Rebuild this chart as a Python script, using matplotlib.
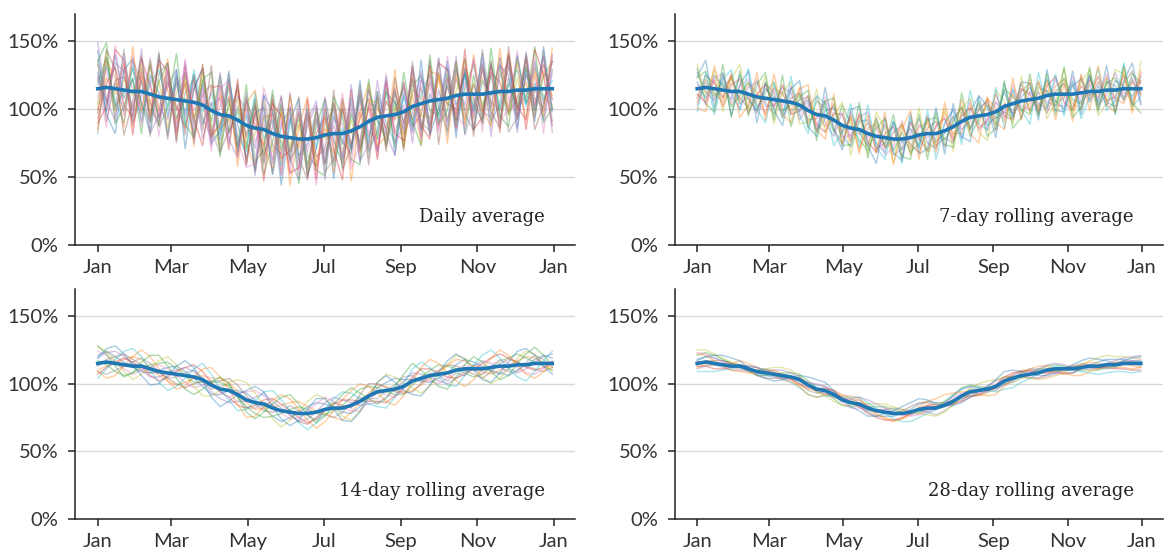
import numpy as np
import matplotlib
matplotlib.use("Agg")
import matplotlib.pyplot as plt
import matplotlib.dates as mdates
from matplotlib.ticker import FuncFormatter

# weekly sample dates over one year
dates = np.arange(np.datetime64("2021-01-01"), np.datetime64("2022-01-01"), np.timedelta64(7, "D"))

# average seasonal profile (% of annual mean), one value per week
mean_curve = [115, 116, 115, 114, 113, 113, 111, 109, 108, 107,
              106, 105, 103, 99, 96, 95, 92, 88, 86, 85,
              82, 80, 79, 78, 78, 79, 81, 82, 82, 84,
              87, 91, 94, 95, 96, 98, 102, 104, 106, 107,
              108, 110, 111, 111, 111, 112, 113, 113, 114, 114,
              115, 115, 115]

# offsets of individual years from the average
daily_dev = [
    [12, -18, 25, -6, 9, -22, 14, 3, -27, 18, -9, 21, -14, 6, -19, 27, -3, -24, 11, 16,
     -30, 8, 22, -12, -4, 19, -21, 13, -8, 24, -16, 2, -25, 17, 9, -13, 28, -20, 5, -11,
     23, -7, 15, -26, 10, -2, 20, -17, 26, -10, 4, -23, 14],
    [-15, 7, -4, 20, -26, 11, -8, 24, 6, -17, 19, -11, 3, -21, 15, -5, 22, -13, -29, 9,
     14, -19, 31, -7, 17, -24, 5, -15, 26, -2, 11, -20, 7, -9, 21, -27, 12, 4, -18, 16,
     -6, 25, -22, 8, -13, 19, -3, 28, -15, 6, -21, 13, -5],
    [5, 22, -13, -2, 17, -9, -20, 11, 26, -14, 2, -23, 18, -8, 29, -12, 7, -16, 21, -33,
     -6, 24, -11, 16, -19, 8, 27, -5, -22, 12, -14, 23, -3, -18, 10, -25, 15, 21, -7, -12,
     18, -19, 4, 22, -9, 13, -24, 6, -11, 17, -16, 9, 20],
    [-22, 3, 16, -11, -19, 24, 6, -15, 12, -5, -20, 10, 27, -18, -7, 14, -26, 19, 2, -12,
     25, -16, -9, 20, -28, 3, 13, -21, 18, -10, 6, 17, -24, 11, -4, 22, -15, -8, 26, -19,
     9, -14, 20, -3, -21, 15, 7, -16, -6, 23, -12, 18, -8],
    [8, -10, 19, 14, -24, -3, 21, -17, 9, 22, -12, 15, -25, 4, 12, -20, 18, 11, -15, 26,
     -9, -13, 17, -22, 10, 24, -14, 6, -18, 20, -26, 13, 8, -11, 19, -16, -5, 24, -20, 7,
     -17, 12, -8, 25, -13, -18, 11, 21, -14, -4, 16, -11, 22],
    [18, -25, 6, 10, -13, 17, -6, -21, 20, -8, 13, -27, 8, 19, -11, -2, 24, -9, 16, -19,
     5, 29, -17, -3, 21, -14, -10, 23, -6, -17, 27, -12, 15, -21, 3, 18, -10, 12, -25, 20,
     -4, -10, 16, -18, 22, -7, -14, 19, -22, 11, -3, 24, -15],
    [-6, 14, -21, 18, 2, -14, 27, -8, -16, 10, 21, -6, 13, -17, 6, 23, -22, 15, -10, 4,
     -19, 12, -27, 25, -9, 14, -20, 10, 7, -24, 19, -7, -16, 26, -13, 5, -20, 17, 11, -22,
     14, -26, 9, -15, 18, -11, 25, -5, -19, 12, 8, -17, 11],
    [21, -12, 4, -16, 23, 7, -11, -19, 15, -24, 6, 17, -9, -20, 25, -13, 10, -7, 22, -26,
     16, -4, -15, 20, -12, -21, 9, 18, -25, 15, -11, 24, -2, -14, 17, -8, 21, -19, 14, -5,
     -24, 19, -12, 7, -16, 24, -20, 10, -13, 18, -7, -14, 25],
    [-11, 26, -17, 8, -3, 20, -15, 12, -22, 5, 16, -14, 24, -10, -23, 7, 15, -18, -4, 21,
     -14, 18, -6, 11, -25, 19, -3, 22, -14, 8, -20, 15, 11, -23, 6, -17, 24, -9, -12, 19,
     -15, 3, 26, -10, 12, -23, 17, -18, 9, -21, 15, -6, -12],
    [3, 16, -9, -24, 19, -17, 8, 20, -6, 13, -18, 24, -5, 13, -15, 21, -12, -19, 26, -7,
     10, -22, 14, -17, 23, -8, 17, -24, 4, -13, 22, -16, 19, -5, -21, 11, -14, 6, 20, -16,
     10, -22, 14, -9, -19, 21, -13, 5, 15, -12, 20, -8, 6],
    [28, -20, -33, 15, 24, -9, -28, 31, -14, 22, -35, 10, 27, -24, -12, 33, -19, 8, -31, 25,
     17, -36, 12, 30, -27, -8, 26, -33, 19, -15, 34, -22, -10, 29, -30, 14, -18, 32, -25, -6,
     27, -31, 18, -13, 30, -21, -9, 26, -28, 15, -24, 31, -17],
    [-30, 19, 8, -27, 33, -16, 22, -11, 29, -25, 14, -32, 30, -19, -8, 24, -34, 16, 28, -13,
     -26, 20, -35, 9, 31, -20, 14, -29, 23, -37, 11, 28, -21, -15, 33, -26, 9, -30, 22, 18,
     -33, 16, -19, 29, -11, -25, 32, -14, 21, -29, 12, -20, 30],
    [20, 33, -26, -12, 10, -31, 25, -22, -7, 34, -17, -26, 19, 28, -31, 12, -20, 30, -25, -15,
     32, -10, 22, -33, 18, -24, -30, 27, 12, -21, -28, 31, -16, 20, -24, 29, -11, -31, 34, -18,
     -9, 25, -29, 14, -22, 33, -18, -26, 24, -9, 31, -25, -14],
    [-25, -14, 29, 22, -32, 14, -17, 27, 20, -30, 26, -12, -30, 17, 21, -25, 30, -28, 12, -38,
     22, 15, -26, -21, 29, -31, 20, -12, -34, 30, -18, 11, -31, 25, -14, -21, 30, -16, -28, 27,
     21, -24, 33, -26, -17, 22, -30, 27, -12, -22, 29, 10, -27],
    [34, -9, -24, 27, -18, 31, -29, -13, 25, -21, 29, -30, 15, -26, 31, -17, -28, 24, -35, 18,
     -22, 30, -16, -30, 14, 27, -33, 21, -19, 34, -25, -17, 27, -13, -30, 21, -27, 19, -16, 31,
     -20, 29, -30, -8, 26, -32, 19, 12, -31, 28, -15, 24, -32],
    [-18, 28, 14, -33, -8, 26, -21, 33, -30, 16, -25, 20, -19, 33, -27, -11, 27, -30, 18, -24,
     28, -28, 33, -14, -30, 22, -22, 32, -27, -11, 24, -32, 19, -26, 27, -9, 20, -24, 30, -33,
     15, -18, 26, -31, 20, -14, -27, 33, -20, 25, -30, -12, 20],
    [9, -30, 32, -19, 26, -25, 11, -29, 21, -26, 31, -21, 9, -30, 19, 26, -14, -31, -26, 31,
     9, -29, 24, -26, 19, -35, 28, -8, 30, -28, -12, 25, -29, 31, -21, -10, 26, -27, 19, -24,
     31, -14, -24, 27, -28, 17, -23, -12, 29, -29, 22, -33, 25],
    [-33, 22, -15, 30, -22, 8, -31, 17, 26, -32, 21, -17, 30, -14, -29, 31, -24, 21, -33, 11,
     -30, 23, -19, 31, -22, 14, -27, -19, 25, -13, 31, -27, 14, -22, 16, -29, 33, -14, -22, 30,
     -27, 21, -14, -27, 33, -11, 25, -30, -20, 27, -19, 28, -24],
]

week_dev = [
    [5, -8, 10, 3, -6, 12, -4, -10, 7, 2, -9, 11, -5, 8, -12, 4, 9, -7, -14, 6,
     10, -5, -11, 13, -3, 7, -9, 12, -6, -2, 8, -13, 5, 14, -8, -4, 11, -10, 3, 9,
     -7, 12, -5, -11, 6, 10, -8, 4, -12, 7, 2, -6, 9],
    [-10, 6, -3, -9, 11, -7, 8, 3, -12, 9, 5, -6, 13, -10, 2, -8, 12, -4, 7, -15,
     4, 9, -7, -2, 11, -13, 6, 8, -10, 14, -5, -9, 10, -6, 12, 3, -11, 7, -8, -3,
     12, -9, 6, 11, -7, -12, 8, -4, 10, -6, -11, 5, -3],
    [8, 12, -5, 6, -11, -3, 9, -8, 4, 13, -7, -2, 8, -13, 10, 6, -9, 15, 3, -8,
     -12, 6, 14, -9, 5, -11, -6, 10, 12, -7, 3, 11, -14, -2, 7, -10, 13, 5, -6, -11,
     8, 3, -9, 12, -4, -8, 13, -10, 5, 9, -8, 11, 4],
    [-4, -11, 7, -12, 5, 9, -14, 2, 10, -6, 12, -9, -4, 11, -7, -12, 5, 8, -10, 12,
     -6, -12, 3, 9, -14, 11, -2, -13, 6, 9, -11, 4, 7, -9, -5, 13, -7, -12, 9, 4,
     -10, 7, 13, -6, -12, 5, -3, 11, -8, -5, 10, -12, 6],
    [12, -3, -9, 10, -2, -13, 5, 11, -6, -4, 10, 7, -11, 3, 13, -5, -12, 10, -7, 9,
     16, -9, -4, 12, -8, 3, 12, -7, -11, 5, 13, -6, -3, 9, -12, 7, -5, 10, -13, 6,
     -4, -10, 11, -2, 9, -7, 12, -11, -3, 13, -7, 8, -10],
    [-7, 9, 4, -6, 13, -9, -2, -12, 11, 5, -12, 3, 9, -7, -3, 11, -6, -14, 12, -2,
     -9, 14, -8, 5, 10, -5, -13, 4, 9, -12, 6, 10, -8, 4, 11, -14, 2, -7, 13, -9,
     5, -13, 2, 8, -11, 12, -6, 7, -9, -12, 4, 13, -5],
    [3, -13, 8, 12, -9, 4, 11, -5, -10, 8, -4, 12, -8, 6, -10, 14, 2, -9, -5, 11,
     -3, 7, -13, -6, 14, -9, 8, -3, 5, 10, -9, -2, 12, -11, -3, 8, -9, 14, -4, -7,
     12, -5, -8, -9, 13, -3, 9, -6, 12, -8, -2, -9, 11],
    [-12, 4, -7, 2, 10, -5, -10, 13, -3, -11, 7, -8, 4, 10, -13, -2, 11, -6, 9, -4,
     8, -11, 10, -12, -7, 12, -4, 13, -9, -5, -12, 7, -10, 6, 9, -5, -4, -11, 7, 12,
     -12, 4, -6, -3, 7, -11, 5, -13, 6, 3, -9, 6, -4],
    [18, -6, 14, -16, 9, 20, -11, -3, 16, -18, 7, 15, -14, -8, 19, -12, 3, 17, -20, 10,
     -15, 18, 6, -17, 12, -9, 20, -14, -5, 17, -18, 9, 14, -12, -19, 16, 4, -15, 18, -10,
     13, -17, -6, 19, -14, 8, 16, -18, -9, 15, 11, -16, 20],
    [-17, 11, -19, 8, 16, -14, 19, -9, -18, 12, -13, 19, -7, -17, 14, 9, -19, -5, 18, -13,
     21, -8, -16, 13, -18, 15, -10, 17, -19, 6, 12, -17, 20, -6, -11, 18, -16, 11, -7, -18,
     19, -9, 15, -16, 10, -19, -4, 17, -15, -8, 19, -13, -6],
    [9, 20, -14, 13, -18, 5, 17, -19, 12, -8, -18, 10, 18, -12, -16, 21, -7, -18, 14, 17,
     -9, -20, 15, -10, -16, 18, -14, -11, 19, -17, 17, -11, -18, 15, 6, -19, 17, -9, 14, 12,
     -16, 19, -12, -13, 17, -16, 11, -8, 18, -17, 6, 19, -12],
    [-14, -18, 17, -6, 12, -19, -8, 18, -16, 19, -10, -15, 12, 19, -11, -17, 19, -13, 9, -18,
     14, -12, 19, -19, 7, 20, -18, 12, -14, 21, -8, 16, -12, -20, 13, -8, -17, 19, -14, 15,
     -8, 11, -19, 8, -20, 14, -14, 19, -11, -16, 15, -18, 13],
    [15, -12, -17, 19, -19, 15, -16, 9, 19, -15, 19, -18, 6, 15, -19, 11, 16, -15, -12, 20,
     -18, 12, -6, 18, -13, -16, 15, -19, 16, -10, -15, 21, -9, 11, -16, -12, 19, -18, -12, 19,
     -13, 16, -15, 20, -17, -11, 18, -15, 8, -18, 17, -10, -18],
]

fortnight_dev = [
    [6, 8, 5, 2, -1, -4, -3, 1, 4, 6, 3, -1, -5, -7, -4, 0, 3, 5, 2, -3,
     -6, -8, -4, 1, 5, 7, 4, 0, -3, -6, -4, -1, 3, 6, 8, 5, 1, -2, -5, -3,
     0, 4, 7, 5, 2, -2, -5, -7, -4, 0, 3, 6, 4],
    [-5, -3, 0, 4, 7, 5, 1, -3, -6, -8, -5, -1, 3, 5, 8, 6, 2, -2, -5, -3,
     1, 4, 7, 9, 5, 1, -3, -7, -9, -5, -1, 2, 5, 3, -1, -4, -7, -5, -2, 2,
     5, 8, 6, 2, -2, -5, -3, 0, 3, 6, 4, 0, -3],
    [2, -2, -6, -8, -5, -1, 3, 6, 8, 4, 0, -4, -2, 2, 5, 3, -1, -5, -8, -10,
     -6, -2, 2, 5, 3, -1, -4, -2, 2, 6, 9, 7, 3, -1, -4, -6, -3, 1, 4, 7,
     5, 1, -3, -6, -4, 0, 4, 6, 8, 5, 1, -2, -5],
    [-8, -4, 1, 5, 3, -1, -5, -7, -3, 2, 6, 9, 6, 2, -2, -5, -8, -6, -2, 3,
     7, 5, 1, -3, -7, -5, -1, 3, 6, 4, 0, -4, -7, -9, -5, -1, 3, 7, 5, 1,
     -3, -6, -4, 0, 4, 7, 9, 6, 2, -2, -5, -3, 1],
    [4, 7, 9, 6, 2, -3, -6, -4, 0, 3, 6, 4, -1, -5, -7, -9, -5, -1, 4, 8,
     5, 2, -2, -6, -4, 0, 5, 8, 6, 2, -3, -6, -8, -5, 0, 4, 6, 3, -1, -5,
     -8, -6, -2, 2, 6, 3, -1, -4, -6, -3, 1, 5, 7],
    [-2, 2, 5, 8, 5, 1, -3, -1, -4, -7, -9, -5, -1, 3, 6, 9, 7, 3, -1, -5,
     -3, 1, -2, -6, -8, -4, 0, 4, 2, -2, 5, 9, 6, 2, -2, -5, -8, -4, 0, 3,
     6, 3, -1, -4, -7, -3, 2, 5, 2, -1, -4, -6, -3],
    [9, 5, 1, -3, -6, -3, 1, 5, 3, -1, -5, -8, -4, 1, -2, -5, 1, 6, 9, 6,
     2, -2, -5, -3, 2, 6, 9, 5, 0, -4, -7, -4, 0, -3, -6, -2, 2, -1, -4, -7,
     -4, 0, 3, -1, -4, 1, 5, 2, -2, -6, -8, -4, 2],
    [-6, -9, -5, -1, 3, 6, 4, 0, -4, -2, 2, 5, 1, -3, 2, 5, -2, -6, -4, 1,
     3, -1, 5, 2, -1, -6, -4, -7, -3, 1, 3, -2, -5, 0, 3, 7, 4, -3, 2, -1,
     -6, -2, -5, 3, 1, -3, -6, -2, -5, 2, 6, 3, -2],
    [12, 8, 2, -5, -10, -6, 1, 8, 12, 7, 0, -7, -12, -8, -1, 6, 11, 13, 7, -1,
     -8, -12, -6, 2, 9, 13, 8, 1, -6, -11, -7, 0, 7, 12, 9, 2, -5, -11, -8, -1,
     6, 11, 8, 1, -6, -12, -9, -2, 5, 10, 7, 0, -6],
    [-11, -5, 3, 10, 13, 7, -1, -8, -13, -9, -2, 6, 12, 8, 0, -7, -12, -7, 1, 9,
     13, 8, 1, -7, -12, -8, 0, 7, 12, 9, 2, -6, -11, -13, -6, 2, 9, 12, 6, -2,
     -9, -12, -5, 3, 10, 13, 6, -2, -9, -12, -6, 2, 9],
    [4, 10, 13, 8, 1, -7, -12, -9, -2, 6, 11, 7, -1, -9, -13, -8, 0, 7, 12, 9,
     1, -6, -10, -5, 3, 10, 8, -1, -9, -12, -8, -1, 7, 11, 5, -3, -10, -13, -7, 1,
     9, 12, 7, -1, -8, -11, -5, 3, 10, 12, 6, -2, -8],
    [-6, -12, -9, -1, 7, 12, 9, 2, -6, -11, -8, 0, 8, 13, 9, 1, -7, -13, -10, -2,
     6, 12, 10, 3, -5, -12, -9, -2, 6, 11, 13, 7, -1, -8, -12, -7, 0, 8, 12, 8,
     0, -8, -13, -8, 0, 7, 12, 8, 0, -7, -11, -6, 1],
    [13, 6, -2, -9, -5, 3, 10, 12, 5, -3, -10, -13, -7, 2, 9, 5, -2, -9, -12, -6,
     3, 10, 13, 7, -1, -8, -5, 3, 10, 13, 6, -2, -9, -6, 2, 9, 13, 6, -2, -9,
     -12, -5, 3, 9, 5, -3, -10, -7, 1, 8, 12, 6, -1],
]

month_dev = [
    [3, 4, 4, 3, 2, 1, 0, -1, -2, -2, -1, 0, 1, 2, 3, 3, 2, 1, 0, -2,
     -3, -4, -3, -2, 0, 2, 4, 5, 4, 2, 0, -2, -3, -3, -2, 0, 1, 2, 3, 3,
     2, 0, -2, -3, -3, -1, 1, 3, 4, 4, 3, 2, 2],
    [-3, -2, -1, 1, 2, 4, 4, 3, 1, -1, -3, -4, -4, -3, -1, 1, 3, 4, 3, 1,
     -1, -3, -4, -5, -4, -2, 0, 2, 3, 2, 1, -1, -3, -4, -3, -1, 1, 3, 4, 3,
     1, -1, -2, -1, 1, 2, 3, 2, 0, -2, -3, -4, -3],
    [6, 7, 6, 4, 2, 0, -2, -3, -2, 0, 2, 3, 4, 3, 1, -1, -3, -4, -3, -1,
     1, 3, 4, 3, 1, -1, -2, -1, 1, 3, 5, 6, 5, 3, 1, -1, -2, -3, -2, 0,
     2, 3, 3, 2, 0, -2, -3, -3, -2, -1, 0, 1, 1],
    [-2, -3, -4, -3, -1, 1, 2, 3, 2, 1, -1, -2, -3, -2, 0, 2, 3, 2, 0, -2,
     -4, -5, -6, -5, -3, -1, 1, 2, 1, -1, -2, -4, -4, -3, -1, 1, 3, 4, 3, 2,
     0, -2, -3, -4, -3, -1, 0, -1, -2, -3, -4, -5, -5],
    [1, 0, -1, -2, -3, -3, -2, 0, 2, 3, 4, 3, 2, 0, -1, -2, -1, 1, 3, 5,
     6, 5, 3, 1, -1, -2, -3, -2, 0, 2, 4, 5, 4, 2, 0, -2, -3, -2, 0, 1,
     3, 4, 4, 3, 1, -1, -2, -1, 1, 3, 4, 5, 6],
    [-1, 1, 2, 3, 2, 0, -1, -3, -4, -3, -2, 0, 1, 0, -2, -3, -2, 0, 2, 3,
     2, 0, -1, 0, 2, 4, 5, 4, 2, 0, -2, -3, -2, 0, 2, 4, 3, 1, -1, -3,
     -4, -3, -1, 1, 2, 1, -1, -2, -1, 1, 2, 1, 0],
    [8, 6, 4, 2, 1, 1, 2, 3, 1, -1, -3, -2, 0, 2, 4, 3, 1, -2, -4, -3,
     -1, 1, 2, 1, -1, -3, -4, -3, -1, 1, 3, 2, 0, -2, -1, 1, 3, 2, 0, -2,
     -4, -5, -4, -2, 0, 2, 1, 0, -1, 0, 1, 2, 3],
    [-4, -3, -1, 0, -1, -2, -1, 1, 3, 2, 0, -1, -3, -4, -3, -1, 1, 2, 1, -1,
     -2, 0, 2, 4, 3, 1, -1, -3, -5, -4, -2, 0, 2, 1, -1, -3, -2, 0, 2, 4,
     3, 1, -1, 0, 2, 3, 1, -1, -3, -2, -1, 0, -2],
    [10, 9, 7, 5, 3, 1, 0, 1, 3, 5, 6, 5, 3, 0, -2, -4, -5, -4, -2, 1,
     3, 5, 6, 5, 3, 0, -3, -5, -6, -5, -3, 0, 3, 5, 6, 5, 3, 1, -1, -3,
     -5, -6, -5, -3, 0, 2, 4, 6, 7, 6, 5, 4, 4],
    [-6, -7, -6, -4, -2, 0, 2, 3, 2, 0, -2, -4, -6, -7, -6, -4, -1, 2, 4, 5,
     4, 2, -1, -4, -6, -7, -6, -4, -1, 2, 4, 5, 4, 2, -1, -4, -6, -7, -5, -3,
     -1, 1, 2, 1, -1, -3, -5, -6, -6, -5, -6, -7, -6],
    [2, 4, 6, 7, 6, 4, 1, -2, -4, -5, -3, 0, 3, 6, 7, 6, 3, 0, -3, -5,
     -6, -4, -1, 2, 5, 7, 8, 6, 3, 0, -3, -5, -4, -1, 2, 5, 7, 6, 3, 0,
     -2, -4, -3, 0, 3, 5, 6, 5, 3, 1, 2, 4, 5],
    [7, 5, 2, -1, -3, -4, -3, -1, 1, 3, 1, -2, -5, -7, -6, -3, 0, 3, 5, 4,
     1, -2, -5, -6, -4, -1, 2, 5, 7, 8, 6, 3, 0, -3, -5, -6, -4, -1, 2, 4,
     5, 3, 0, -3, -5, -6, -4, -2, 0, 2, 0, -2, -3],
]

panel_titles = ["Daily average", "7-day rolling average",
                "14-day rolling average", "28-day rolling average"]
panel_devs = [daily_dev, week_dev, fortnight_dev, month_dev]
panel_alpha = [0.4, 0.38, 0.38, 0.38]

W, H = 1165, 554
fig = plt.figure(figsize=(W / 100, H / 100), dpi=100)
boxes = [(75, 245, 500, 231), (675, 245, 488, 231),
         (75, 519, 500, 230), (675, 519, 488, 230)]

tick_font = "Lato"
colors = plt.rcParams["axes.prop_cycle"].by_key()["color"]
mean_arr = np.array(mean_curve, dtype=float)

for (x0, yb, w, h), title, devs, a in zip(boxes, panel_titles, panel_devs, panel_alpha):
    ax = fig.add_axes([x0 / W, (H - yb) / H, w / W, h / H])
    for i, d in enumerate(devs):
        ax.plot(dates, mean_arr + np.array(d), color=colors[i % 10], lw=1.0, alpha=a)
    ax.plot(dates, mean_arr, color="#1f77b4", lw=2.6)

    ax.set_ylim(0, 170)
    ax.set_yticks([0, 50, 100, 150])
    ax.yaxis.set_major_formatter(FuncFormatter(lambda v, p: f"{v:.0f}%"))
    ax.xaxis.set_major_locator(mdates.MonthLocator(bymonth=[1, 3, 5, 7, 9, 11]))
    ax.xaxis.set_major_formatter(mdates.DateFormatter("%b"))
    ax.grid(axis="y", color="#d9d9d9", lw=1.0)
    ax.set_axisbelow(True)
    for s in ["top", "right"]:
        ax.spines[s].set_visible(False)
    for s in ["left", "bottom"]:
        ax.spines[s].set_linewidth(1.1)
        ax.spines[s].set_color("#222222")
    ax.tick_params(length=5, width=1.1, color="#222222", labelcolor="#333333",
                   labelsize=14.5)
    ax.tick_params(axis="x", pad=5)
    ax.tick_params(axis="y", pad=7)
    for lab in ax.get_xticklabels() + ax.get_yticklabels():
        lab.set_fontfamily(tick_font)
    ax.text(0.94, 0.12, title, transform=ax.transAxes, ha="right", va="center",
            family="DejaVu Serif", fontsize=13, color="#222222")

fig.savefig("out.png", dpi=100)
